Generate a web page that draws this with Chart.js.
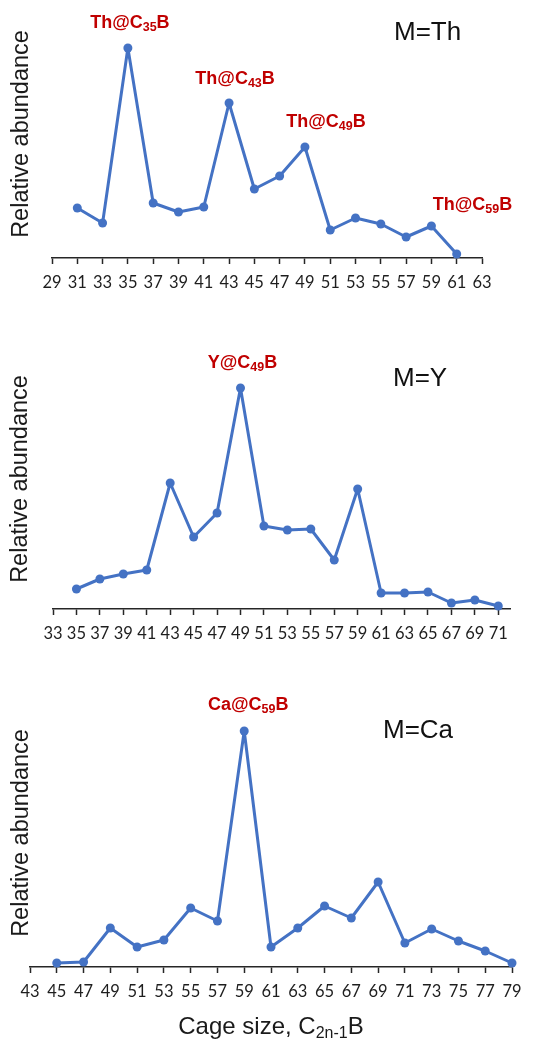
<!DOCTYPE html>
<html>
<head>
<meta charset="utf-8">
<script src="https://cdn.jsdelivr.net/npm/chart.js@4/dist/chart.umd.min.js"></script>
<style>
  html, body { margin: 0; padding: 0; background: #fff; }
  .panel { position: absolute; left: 0; width: 546px; }
</style>
</head>
<body>
<div class="panel" style="top:0;height:300px"><canvas id="thChart"></canvas></div>
<div class="panel" style="top:330px;height:330px"><canvas id="yChart"></canvas></div>
<div class="panel" style="top:680px;height:361px"><canvas id="caChart"></canvas></div>
<script>
// M = Th
const thSizes = [31, 33, 35, 37, 39, 41, 43, 45, 47, 49, 51, 53, 55, 57, 59, 61];
const thAbundance = [50, 35, 210, 55, 46, 51, 155, 69, 82, 111, 28, 40, 34, 21, 32, 4];
const thTicks = [29, 31, 33, 35, 37, 39, 41, 43, 45, 47, 49, 51, 53, 55, 57, 59, 61, 63];

// M = Y
const ySizes = [35, 37, 39, 41, 43, 45, 47, 49, 51, 53, 55, 57, 59, 61, 63, 65, 67, 69, 71];
const yAbundance = [20, 30, 35, 39, 126, 72, 96, 221, 83, 79, 80, 49, 120, 16, 16, 17, 6, 9, 3];
const yTicks = [33, 35, 37, 39, 41, 43, 45, 47, 49, 51, 53, 55, 57, 59, 61, 63, 65, 67, 69, 71];

// M = Ca
const caSizes = [45, 47, 49, 51, 53, 55, 57, 59, 61, 63, 65, 67, 69, 71, 73, 75, 77, 79];
const caAbundance = [4, 5, 39, 20, 27, 59, 46, 236, 20, 39, 61, 49, 85, 24, 38, 26, 16, 4];
const caTicks = [43, 45, 47, 49, 51, 53, 55, 57, 59, 61, 63, 65, 67, 69, 71, 73, 75, 77, 79];

const BLUE = '#4472C4';
const RED = '#C00000';
const SANS = '"Liberation Sans", Arial, sans-serif';

// draw text made of [normal, sub, normal, ...] pieces, centred on (cx, cy)
function drawSubText(ctx, parts, cx, cy, size, subSize, weight, color) {
  const mainFont = weight + ' ' + size + 'px ' + SANS;
  const subFont = weight + ' ' + subSize + 'px ' + SANS;
  let total = 0;
  parts.forEach((p, i) => {
    ctx.font = i % 2 ? subFont : mainFont;
    total += ctx.measureText(p).width;
  });
  let x = cx - total / 2;
  ctx.fillStyle = color;
  ctx.textAlign = 'left';
  ctx.textBaseline = 'middle';
  parts.forEach((p, i) => {
    const sub = i % 2 === 1;
    ctx.font = sub ? subFont : mainFont;
    ctx.fillText(p, x, sub ? cy + size * 0.28 : cy);
    x += ctx.measureText(p).width;
  });
}

const panelText = {
  id: 'panelText',
  afterDraw(chart, args, opts) {
    const ctx = chart.ctx;
    const xs = chart.scales.x, ys = chart.scales.y;
    ctx.save();
    // y-axis title
    ctx.save();
    ctx.translate(opts.yTitle.x, opts.yTitle.y);
    ctx.rotate(-Math.PI / 2);
    ctx.font = '23.5px ' + SANS;
    ctx.fillStyle = '#1a1a1a';
    ctx.textAlign = 'center';
    ctx.textBaseline = 'middle';
    ctx.fillText('Relative abundance', 0, 0);
    ctx.restore();
    // metal label
    ctx.font = '26px ' + SANS;
    ctx.fillStyle = '#111';
    ctx.textAlign = 'left';
    ctx.textBaseline = 'middle';
    ctx.fillText(opts.metal.text, opts.metal.x, opts.metal.y);
    // peak annotations, placed above their data point
    const sizes = chart.data.datasets[0].data;
    opts.peaks.forEach(pk => {
      const pt = sizes.find(d => d.x === pk.size);
      const px = xs.getPixelForValue(pt.x) + pk.dx;
      const py = ys.getPixelForValue(pt.y) - pk.dy;
      drawSubText(ctx, pk.parts, px, py, 18, 12.5, 'bold', RED);
    });
    // x-axis title
    if (opts.xTitle) {
      drawSubText(ctx, ['Cage size, C', '2n-1', 'B'], opts.xTitle.x, opts.xTitle.y, 24, 16, 'normal', '#1a1a1a');
    }
    ctx.restore();
  }
};

function makeChart(id, sizes, values, ticks, cfg) {
  return new Chart(document.getElementById(id), {
    type: 'line',
    data: {
      datasets: [{
        data: sizes.map((s, i) => ({ x: s, y: values[i] })),
        borderColor: BLUE,
        backgroundColor: BLUE,
        borderWidth: 3,
        borderJoinStyle: 'round',
        borderCapStyle: 'round',
        pointRadius: 4.5,
        pointBackgroundColor: BLUE,
        pointBorderWidth: 0,
        tension: 0,
        clip: false
      }]
    },
    options: {
      responsive: true,
      maintainAspectRatio: false,
      animation: false,
      layout: { padding: cfg.padding },
      plugins: {
        legend: { display: false },
        tooltip: { enabled: false },
        panelText: cfg.text
      },
      scales: {
        x: {
          type: 'linear',
          min: ticks[0],
          max: cfg.xMax,
          afterBuildTicks: (scale) => { scale.ticks = ticks.map(v => ({ value: v })); },
          afterFit: (scale) => { scale.height = cfg.axisHeight; },
          grid: {
            drawOnChartArea: false,
            drawTicks: true,
            tickLength: 6,
            tickColor: '#262626',
            tickWidth: 1.5
          },
          border: { display: true, color: '#262626', width: 1.5 },
          ticks: {
            padding: 9,
            autoSkip: false,
            maxRotation: 0,
            color: '#1e1e1e',
            font: { family: 'Lato, "Open Sans", sans-serif', size: 16.5 }
          }
        },
        y: {
          display: false,
          min: 0,
          max: cfg.yMax
        }
      }
    },
    plugins: [panelText]
  });
}

makeChart('thChart', thSizes, thAbundance, thTicks, {
  padding: { left: 52, right: 64, top: 20, bottom: 0 },
  axisHeight: 42,
  xMax: 63,
  yMax: 238,
  text: {
    yTitle: { x: 22, y: 134 },
    metal: { text: 'M=Th', x: 394, y: 33 },
    peaks: [
      { size: 35, parts: ['Th@C', '35', 'B'], dx: 2, dy: 25 },
      { size: 43, parts: ['Th@C', '43', 'B'], dx: 6, dy: 24 },
      { size: 49, parts: ['Th@C', '49', 'B'], dx: 21, dy: 25 },
      { size: 59, parts: ['Th@C', '59', 'B'], dx: 41, dy: 21 }
    ]
  }
});

makeChart('yChart', ySizes, yAbundance, yTicks, {
  padding: { left: 53, right: 36, top: 20, bottom: 0 },
  axisHeight: 51,
  xMax: 72,
  yMax: 259,
  text: {
    yTitle: { x: 21, y: 149 },
    metal: { text: 'M=Y', x: 393, y: 49 },
    peaks: [
      { size: 49, parts: ['Y@C', '49', 'B'], dx: 2, dy: 25 }
    ]
  }
});

makeChart('caChart', caSizes, caAbundance, caTicks, {
  padding: { left: 30, right: 34, top: 20, bottom: 0 },
  axisHeight: 74,
  xMax: 79,
  yMax: 267,
  text: {
    yTitle: { x: 22, y: 153 },
    metal: { text: 'M=Ca', x: 383, y: 51 },
    peaks: [
      { size: 59, parts: ['Ca@C', '59', 'B'], dx: 4, dy: 26 }
    ],
    xTitle: { x: 271, y: 347 }
  }
});
</script>
</body>
</html>
